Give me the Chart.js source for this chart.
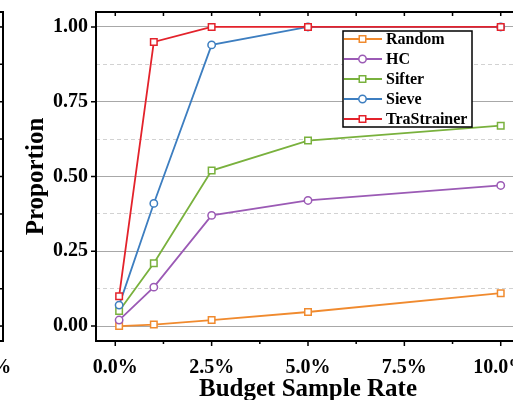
<!DOCTYPE html>
<html>
<head>
<meta charset="utf-8">
<script src="https://cdn.jsdelivr.net/npm/chart.js@4/dist/chart.umd.min.js"></script>
<style>
  html, body { margin: 0; padding: 0; background: #fff; }
  body { width: 513px; height: 400px; overflow: hidden; position: relative; }
  canvas { position: absolute; top: 0; }
  #prevPanel { left: -517px; }
  #budgetChart { left: 0; }
</style>
</head>
<body>
<canvas id="prevPanel" width="540" height="400"></canvas>
<canvas id="budgetChart" width="540" height="400"></canvas>
<script>
// Budget sample rate (%) vs. proportion for each sampling method
const sampleRates = [0.1, 1, 2.5, 5, 10];
const randomVals = [0, 0.005, 0.02, 0.047, 0.11];
const hcVals = [0.02, 0.13, 0.37, 0.42, 0.47];
const sifterVals = [0.05, 0.21, 0.52, 0.62, 0.67];
const sieveVals = [0.07, 0.41, 0.94, 1.0, 1.0];
const traStrainerVals = [0.10, 0.95, 1.0, 1.0, 1.0];

const methodNames = ['Random', 'HC', 'Sifter', 'Sieve', 'TraStrainer'];
const seriesValues = [randomVals, hcVals, sifterVals, sieveVals, traStrainerVals];
const seriesColors = ['#F08A2E', '#9B5AB5', '#79B13D', '#3D7EC0', '#E3222B'];
const seriesMarkers = ['rect', 'circle', 'rect', 'circle', 'rect'];

const xTickValues = [0, 2.5, 5, 7.5, 10];
const xTickLabels = ['0.0%', '2.5%', '5.0%', '7.5%', '10.0%'];
const yTickValues = [0, 0.25, 0.5, 0.75, 1];
const yTickLabels = ['0.00', '0.25', '0.50', '0.75', '1.00'];

const FONT = 'Liberation Serif';

// majors plus one minor tick halfway between each pair
function withMinors(majors) {
    const out = [];
    majors.forEach((v, i) => {
        out.push({ value: v });
        if (i < majors.length - 1) out.push({ value: (v + majors[i + 1]) / 2, minor: true });
    });
    return out;
}

function drawMarker(ctx, style, r, x, y) {
    ctx.beginPath();
    if (style === 'rect') {
        const s = Math.SQRT1_2 * r;
        ctx.rect(x - s, y - s, 2 * s, 2 * s);
    } else {
        ctx.arc(x, y, r, 0, Math.PI * 2);
    }
    ctx.fill();
    ctx.stroke();
}

// black frame with ticks like an Origin plot
const framePlugin = {
    id: 'frame',
    afterDatasetsDraw(chart) {
        const { ctx, chartArea: a, scales: { x, y } } = chart;
        ctx.save();
        ctx.strokeStyle = '#000';
        ctx.lineWidth = 1.5;
        ctx.beginPath();
        x.ticks.forEach(t => {
            const px = x.getPixelForValue(t.value);
            ctx.moveTo(px, a.bottom);
            ctx.lineTo(px, a.bottom + (t.minor ? 3 : 5));
            ctx.moveTo(px, a.top);
            ctx.lineTo(px, a.top + 4);
        });
        y.ticks.forEach(t => {
            const py = y.getPixelForValue(t.value);
            if (!t.minor) {
                ctx.moveTo(a.left - 5, py);
                ctx.lineTo(a.left, py);
            }
            ctx.moveTo(a.right, py);
            ctx.lineTo(a.right - 3, py);
        });
        ctx.stroke();
        ctx.lineWidth = 2;
        ctx.strokeRect(a.left, a.top, a.right - a.left, a.bottom - a.top);
        ctx.restore();
    }
};

// boxed legend with line + marker samples
const boxLegend = {
    id: 'boxLegend',
    afterDraw(chart, args, opts) {
        if (!opts.display) return;
        const ctx = chart.ctx;
        ctx.save();
        ctx.fillStyle = '#fff';
        ctx.fillRect(opts.x, opts.y, opts.width, opts.height);
        ctx.strokeStyle = '#000';
        ctx.lineWidth = 1.5;
        ctx.strokeRect(opts.x, opts.y, opts.width, opts.height);
        chart.data.datasets.forEach((ds, i) => {
            const cy = opts.y + opts.firstRow + i * opts.rowGap;
            ctx.strokeStyle = ds.borderColor;
            ctx.lineWidth = ds.borderWidth;
            ctx.beginPath();
            ctx.moveTo(opts.x + 1, cy);
            ctx.lineTo(opts.x + opts.lineLen, cy);
            ctx.stroke();
            ctx.fillStyle = '#fff';
            ctx.lineWidth = ds.pointBorderWidth;
            drawMarker(ctx, ds.pointStyle, ds.pointRadius, opts.x + opts.lineLen / 2, cy);
            ctx.fillStyle = '#000';
            ctx.font = 'bold 16px "' + FONT + '"';
            ctx.textBaseline = 'middle';
            ctx.fillText(ds.label, opts.x + opts.lineLen + 4, cy + 1);
        });
        ctx.restore();
    }
};

function makeChart(id, datasets, showLegend) {
    const tickFont = { family: FONT, size: 20, weight: 'bold' };
    return new Chart(document.getElementById(id), {
        type: 'line',
        data: { datasets: datasets },
        options: {
            responsive: false,
            animation: false,
            events: [],
            layout: { padding: { left: 0, top: 12, right: 20, bottom: 0 } },
            scales: {
                x: {
                    type: 'linear',
                    min: -0.5,
                    max: 10.5,
                    afterBuildTicks: s => { s.ticks = withMinors(xTickValues); },
                    afterFit: s => { s.height = 59; s.paddingLeft = 0; s.paddingRight = 0; },
                    grid: { display: false, drawTicks: false },
                    border: { display: false },
                    ticks: {
                        autoSkip: false,
                        maxRotation: 0,
                        padding: 15,
                        color: '#000',
                        font: tickFont,
                        callback: (v, i, ticks) => ticks[i].minor ? '' : xTickLabels[xTickValues.indexOf(v)]
                    },
                    title: {
                        display: true,
                        text: 'Budget Sample Rate',
                        color: '#000',
                        font: { family: FONT, size: 25, weight: 'bold', lineHeight: 0.8 },
                        padding: { top: 0, bottom: 0 }
                    }
                },
                y: {
                    min: -0.05,
                    max: 1.05,
                    afterBuildTicks: s => { s.ticks = withMinors(yTickValues); },
                    afterFit: s => { s.width = 96; s.paddingTop = 0; s.paddingBottom = 0; },
                    grid: {
                        drawTicks: false,
                        lineWidth: 1,
                        color: c => (c.tick && c.tick.minor) ? '#d2d2d2' : '#a8a8a8'
                    },
                    border: {
                        display: false,
                        dash: c => (c.tick && c.tick.minor) ? [4, 3] : []
                    },
                    ticks: {
                        autoSkip: false,
                        padding: 8,
                        color: '#000',
                        font: tickFont,
                        callback: (v, i, ticks) => ticks[i].minor ? '' : yTickLabels[yTickValues.indexOf(v)]
                    },
                    title: {
                        display: true,
                        text: 'Proportion',
                        color: '#000',
                        font: { family: FONT, size: 25, weight: 'bold' },
                        padding: { top: 22, bottom: 0 }
                    }
                }
            },
            plugins: {
                legend: { display: false },
                tooltip: { enabled: false },
                boxLegend: {
                    display: showLegend,
                    x: 343, y: 31, width: 129, height: 96,
                    firstRow: 8, rowGap: 20, lineLen: 39
                }
            }
        },
        plugins: [framePlugin, boxLegend]
    });
}

const datasets = methodNames.map((name, i) => ({
    label: name,
    data: sampleRates.map((r, j) => ({ x: r, y: seriesValues[i][j] })),
    borderColor: seriesColors[i],
    backgroundColor: '#fff',
    pointBackgroundColor: '#fff',
    pointBorderColor: seriesColors[i],
    pointStyle: seriesMarkers[i],
    pointRadius: seriesMarkers[i] === 'rect' ? 4.6 : 3.7,
    pointBorderWidth: 1.5,
    borderWidth: 1.8,
    tension: 0,
    order: methodNames.length - i
}));

// neighbouring panel: only its right edge is on screen
makeChart('prevPanel', [], false);
makeChart('budgetChart', datasets, true);
</script>
</body>
</html>
